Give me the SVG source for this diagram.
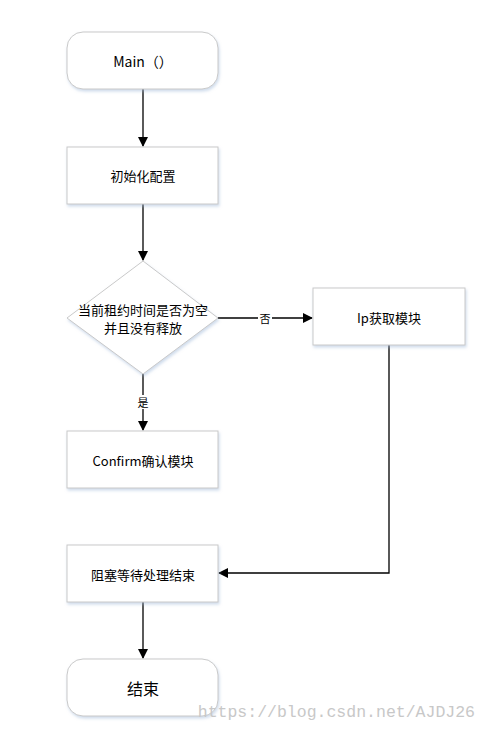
<svg xmlns="http://www.w3.org/2000/svg" width="487" height="730" viewBox="0 0 487 730">
<defs>
<marker id="arr" markerWidth="10" markerHeight="10" refX="9" refY="5" orient="auto" markerUnits="userSpaceOnUse">
<path d="M0,0 L10,5 L0,10 Z" fill="#000"/>
</marker>
<filter id="sh" x="-10%" y="-10%" width="120%" height="130%">
<feDropShadow dx="1" dy="2" stdDeviation="1.5" flood-color="#9fb8d8" flood-opacity="0.5"/>
</filter>
</defs>
<style>
.n{fill:#fff;stroke:#c9c9c9;stroke-width:1;filter:url(#sh)}
.t{font-family:"Noto Sans CJK SC","Liberation Sans",sans-serif;font-size:13px;fill:#000;text-anchor:middle;dominant-baseline:central}
.c{fill:none;stroke:#000;stroke-width:1.3}
.l{font-family:"Noto Sans CJK SC",sans-serif;font-size:11px;fill:#000;text-anchor:middle;dominant-baseline:central}
</style>
<rect width="487" height="730" fill="#fff"/>
<g id="connectors">
<line class="c" x1="143" y1="89" x2="143" y2="146" marker-end="url(#arr)"/>
<line class="c" x1="143" y1="204" x2="143" y2="260" marker-end="url(#arr)"/>
<line class="c" x1="143" y1="374" x2="143" y2="430" marker-end="url(#arr)"/>
<line class="c" x1="218" y1="318" x2="312" y2="318" marker-end="url(#arr)"/>
<path class="c" d="M389,345 V573 H219" marker-end="url(#arr)"/>
<line class="c" x1="143" y1="602" x2="143" y2="658" marker-end="url(#arr)"/>
<rect x="136" y="395" width="14" height="14" fill="#fff"/>
<text class="l" x="143" y="402">是</text>
<rect x="258" y="311" width="14" height="14" fill="#fff"/>
<text class="l" x="265" y="318">否</text>
</g>
<g id="main">
<rect class="n" x="67" y="32" width="151" height="57" rx="16"/>
<text class="t" x="143" y="61" style="font-size:14px">Main（）</text>
</g>
<g id="init">
<rect class="n" x="67" y="147" width="151" height="57"/>
<text class="t" x="143" y="175">初始化配置</text>
</g>
<g id="decision">
<polygon class="n" points="143,261 218,318 143,374 67,318"/>
<text class="t" x="143" y="309">当前租约时间是否为空</text>
<text class="t" x="143" y="327">并且没有释放</text>
</g>
<g id="ip">
<rect class="n" x="313" y="288" width="152" height="57"/>
<text class="t" x="389" y="317">Ip获取模块</text>
</g>
<g id="confirm">
<rect class="n" x="67" y="431" width="151" height="57"/>
<text class="t" x="143" y="460">Confirm确认模块</text>
</g>
<g id="block">
<rect class="n" x="67" y="545" width="151" height="57"/>
<text class="t" x="143" y="574">阻塞等待处理结束</text>
</g>
<g id="end">
<rect class="n" x="67" y="659" width="151" height="57" rx="16"/>
<text class="t" x="143" y="688" style="font-size:16px">结束</text>
</g>
<text x="475" y="717" text-anchor="end" font-family="Liberation Mono, monospace" font-size="16.5" fill="#c8c8c8">https://blog.csdn.net/AJDJ26</text>
</svg>
